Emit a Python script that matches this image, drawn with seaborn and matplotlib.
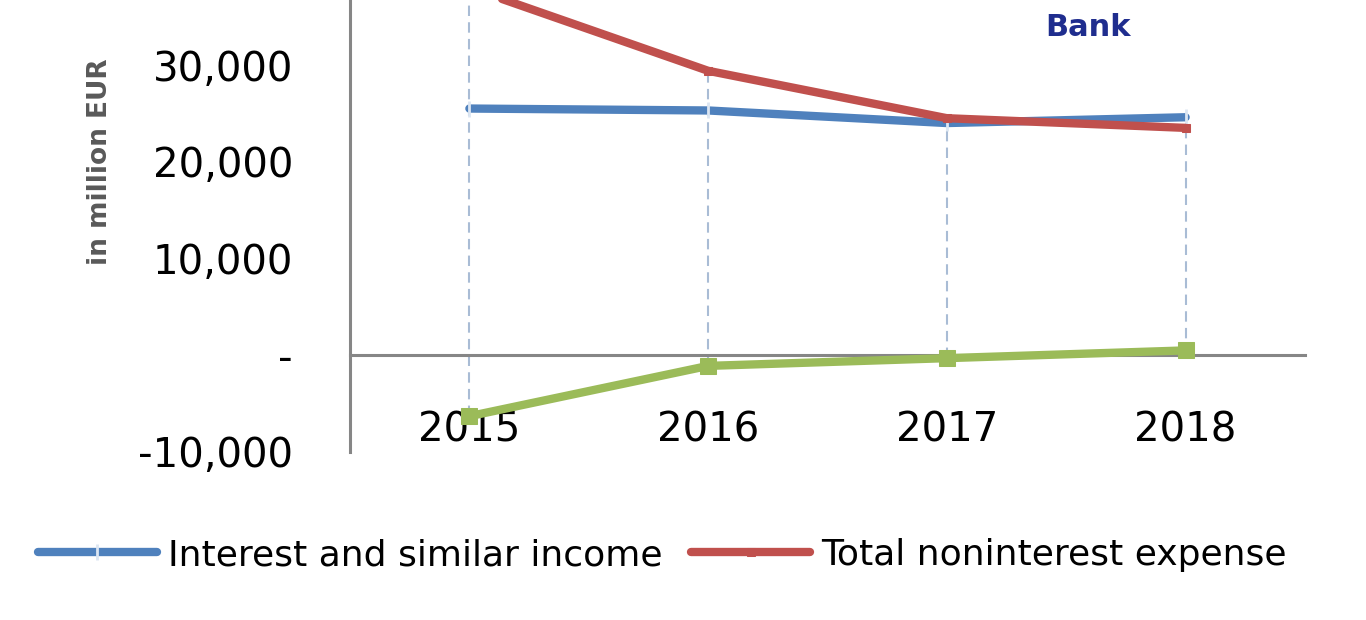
import numpy as np
import pandas as pd
import matplotlib
matplotlib.use("Agg")
import matplotlib.pyplot as plt
import seaborn as sns

sns.set_style("white")
plt.rcParams["font.family"] = ["DejaVu Sans"]
plt.rcParams["text.color"] = "black"
plt.rcParams["xtick.labelcolor"] = "black"
plt.rcParams["ytick.labelcolor"] = "black"

# values (million EUR)
years = ["2015", "2016", "2017", "2018"]
interest_income = [25500, 25300, 24000, 24600]
nonint_expense = [38000, 29400, 24500, 23500]
third_series = [-6300, -1100, -300, 500]

series_names = ["Interest and similar income", "Total noninterest expense"]
y_ticks = [-10000, 0, 10000, 20000, 30000]

pos = np.arange(len(years))
df = pd.DataFrame({"pos": pos,
                   "income": interest_income,
                   "expense": nonint_expense,
                   "other": third_series})

axis_grey = "#868686"

fig = plt.figure(figsize=(13.66, 6.2), dpi=100)
ax = fig.add_axes([350 / 1366, 168 / 620, 955 / 1366, 483.75 / 620])

# drop lines (Excel style)
tops = df[["income", "expense", "other"]].max(axis=1)
bots = np.minimum(0, df[["income", "expense", "other"]].min(axis=1))
ax.vlines(df["pos"], bots, tops, colors="#A9BCD5",
          linestyles=(0, (5, 3)), lw=1.5, zorder=1)

sns.lineplot(data=df, x="pos", y="other", color="#9BBB59", lw=6,
             marker="s", ms=11, mec="#9BBB59", ax=ax, zorder=3)
sns.lineplot(data=df, x="pos", y="income", color="#4F81BD", lw=6,
             marker="|", ms=12, mew=2, mec="#DCE6F2", ax=ax, zorder=4,
             label=series_names[0])
sns.lineplot(data=df, x="pos", y="expense", color="#C0504D", lw=6,
             marker="s", ms=6, mec="#C0504D", ax=ax, zorder=5,
             label=series_names[1])

ax.set_xlim(-0.5, len(years) - 0.5)
ax.set_ylim(-10000, 40000)
ax.set_xlabel("")
ax.set_ylabel("")

for s in ["top", "right"]:
    ax.spines[s].set_visible(False)
ax.spines["bottom"].set_position(("data", 0))
for s in ["left", "bottom"]:
    ax.spines[s].set_color(axis_grey)
    ax.spines[s].set_linewidth(2.2)

ax.set_xticks(pos)
ax.set_xticklabels(years)
ax.set_xticks(np.arange(-0.5, len(years)), minor=True)
ax.tick_params(axis="x", which="major", length=0, pad=40, labelsize=29)
ax.tick_params(axis="x", which="minor", length=16, width=2,
               color=axis_grey, direction="out")

ax.set_yticks(y_ticks)
ax.set_yticklabels(["-" if v == 0 else f"{v:,}" for v in y_ticks])
ax.tick_params(axis="y", length=9, width=2, color=axis_grey,
               direction="out", pad=32, labelsize=29)

fig.text(100 / 1366, 1 - 162 / 620, "in million EUR", rotation=90,
         ha="center", va="center", fontsize=19, fontweight="bold",
         color="#595959")
fig.text(1088 / 1366, 1 - 27 / 620, "Bank", ha="center", va="center",
         fontsize=22, fontweight="bold", color="#1F2D8E")

handles, labels = ax.get_legend_handles_labels()
ax.get_legend().remove()
fig.legend(handles, labels, loc="center", bbox_to_anchor=(662 / 1366, 65 / 620),
           ncol=2, frameon=False, fontsize=26, handlelength=3.3,
           handletextpad=0.3, columnspacing=0.8, labelcolor="black")

fig.savefig("out.png", dpi=100)
